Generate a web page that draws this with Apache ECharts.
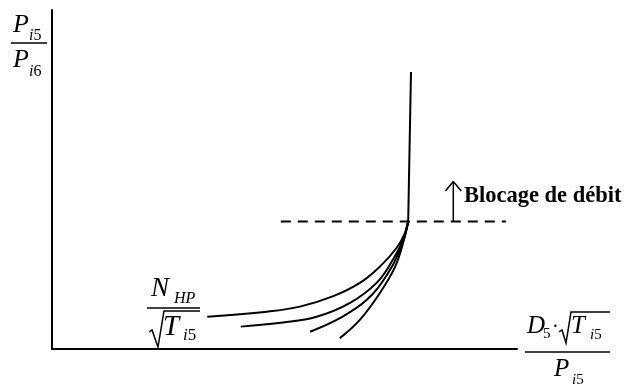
<!DOCTYPE html>
<html>
<head>
<meta charset="utf-8">
<title>Blocage de débit</title>
<script src="https://cdn.jsdelivr.net/npm/echarts@6/dist/echarts.min.js"></script>
<style>
  html, body { margin: 0; padding: 0; background: #fff; }
  #chart { width: 625px; height: 385px; }
</style>
</head>
<body>
<div id="chart"></div>
<script>
// Reduced speed lines N_HP / sqrt(Ti5): pressure ratio vs. reduced flow (arbitrary units 0..100)
var speedLine1 = [[33.4, 9.5], [46.2, 11.0], [53.3, 12.5], [60.5, 15.6], [66.2, 19.5], [70.5, 24.3], [74.1, 29.8], [75.9, 34.2], [76.6, 37.6]];
var speedLine2 = [[40.6, 6.6], [49.7, 7.8], [56.9, 9.5], [64.1, 13.6], [69.8, 19.5], [73.3, 26.3], [75.5, 32.2], [76.6, 37.6]];
var speedLine3 = [[55.5, 5.1], [61.9, 9.1], [67.7, 14.5], [72.0, 21.8], [74.8, 29.2], [76.6, 37.6]];
var speedLine4 = [[61.9, 3.2], [66.2, 8.6], [70.5, 16.5], [73.8, 24.3], [75.7, 32.2], [76.6, 37.6]];

// Choked branch: flow stays constant while the ratio rises
var chokeLine = [[76.6, 37.6], [77.2, 81.7]];

// Choking threshold (dashed) and the arrow pointing into the choked zone
var chokeLevel = [[49.2, 37.6], [97.6, 37.6]];
var arrowShaft = [[86.3, 37.6], [86.3, 49.4]];
var arrowHead = [[84.6, 46.6], [86.3, 49.4], [88.0, 46.6]];

var chokeText = 'Blocage de débit';

var serif = '"Liberation Serif", "Times New Roman", serif';

function curve(data, extra) {
  return Object.assign({
    type: 'line',
    data: data,
    symbol: 'none',
    smooth: 0.4,
    lineStyle: { color: '#000', width: 2 },
    silent: true
  }, extra || {});
}

function txt(x, y, text, size, style) {
  return {
    type: 'text',
    x: x,
    y: y,
    silent: true,
    style: {
      text: text,
      font: (style || 'italic') + ' ' + size + 'px ' + serif,
      fill: '#000',
      align: 'left',
      textAlign: 'left',
      verticalAlign: 'middle',
      textVerticalAlign: 'middle'
    }
  };
}

function sub(x, y, letters, digit, size) {
  return {
    type: 'text',
    x: x,
    y: y,
    silent: true,
    style: {
      text: '{a|' + letters + '}{b|' + digit + '}',
      align: 'left',
      verticalAlign: 'middle',
      rich: {
        a: { font: 'italic ' + size + 'px ' + serif, fill: '#000' },
        b: { font: size + 'px ' + serif, fill: '#000' }
      }
    }
  };
}

function seg(points, w) {
  return {
    type: 'polyline',
    silent: true,
    shape: { points: points },
    style: { stroke: '#000', lineWidth: w || 1.5, fill: null }
  };
}

var chart = echarts.init(document.getElementById('chart'), null, { renderer: 'canvas' });

chart.setOption({
  animation: false,
  backgroundColor: '#fff',
  grid: { left: 52, top: 10, width: 465, height: 339, containLabel: false },
  xAxis: {
    type: 'value', min: 0, max: 100,
    axisLine: { show: true, onZero: false, lineStyle: { color: '#000', width: 2 } },
    axisTick: { show: false }, axisLabel: { show: false }, splitLine: { show: false }
  },
  yAxis: {
    type: 'value', min: 0, max: 100,
    axisLine: { show: true, onZero: false, lineStyle: { color: '#000', width: 2 } },
    axisTick: { show: false }, axisLabel: { show: false }, splitLine: { show: false }
  },
  series: [
    curve(speedLine1),
    curve(speedLine2),
    curve(speedLine3),
    curve(speedLine4),
    curve(chokeLine, { smooth: false }),
    curve(chokeLevel, { smooth: false, lineStyle: { color: '#000', width: 2, type: [10, 7] } }),
    curve(arrowShaft, { smooth: false, lineStyle: { color: '#000', width: 1.5 } }),
    curve(arrowHead, { smooth: false, lineStyle: { color: '#000', width: 1.5 } })
  ],
  graphic: [
    // y-axis title: Pi5 / Pi6
    txt(13, 25, 'P', 26),
    sub(29, 36, 'i', '5', 16),
    seg([[11, 43], [47, 43]], 1.5),
    txt(13, 60, 'P', 26),
    sub(29, 72, 'i', '6', 16),

    // speed-line label: N_HP / sqrt(Ti5)
    txt(151, 289, 'N', 27),
    txt(174, 299, 'HP', 16),
    seg([[147, 308], [200, 308]], 1.5),
    seg([[149, 332], [152, 330], [158, 347], [164, 311], [200, 311]], 1.5),
    txt(163, 327, 'T', 29),
    sub(183, 336, 'i', '5', 17),

    // x-axis title: D5 · sqrt(Ti5) / Pi5
    txt(527, 326, 'D', 25),
    txt(543, 334, '5', 15, 'normal'),
    txt(552, 328, '·', 20, 'normal'),
    seg([[559, 332], [562, 330], [566, 343], [571, 312], [610, 312]], 1.5),
    txt(571, 326, 'T', 25),
    sub(590, 335, 'i', '5', 15),
    seg([[525, 352], [610, 352]], 1.5),
    txt(554, 369, 'P', 25),
    sub(572, 380, 'i', '5', 15),

    // choking annotation
    txt(464, 196, chokeText, 22.5, 'bold')
  ]
});
</script>
</body>
</html>
